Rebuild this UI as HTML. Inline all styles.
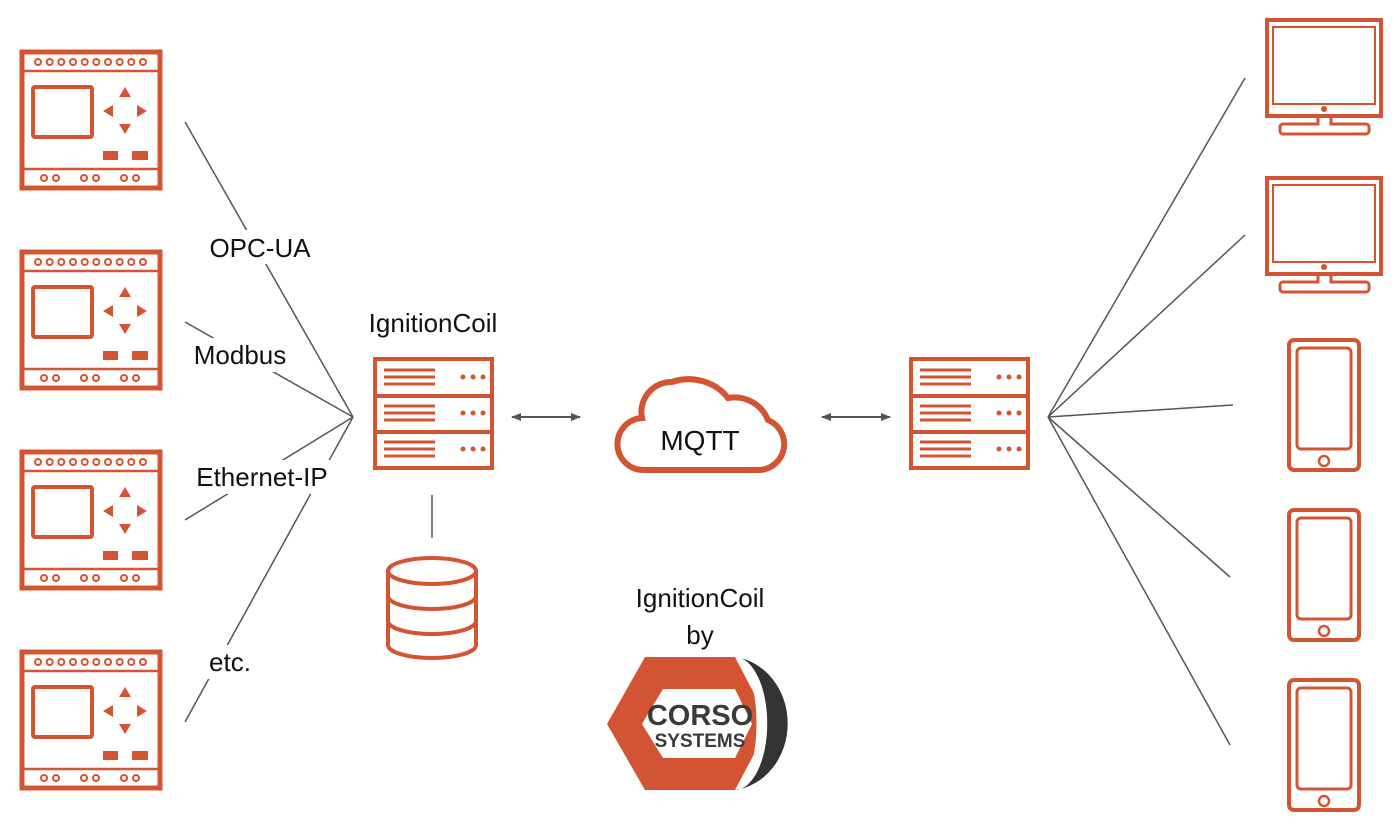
<!DOCTYPE html>
<html><head><meta charset="utf-8"><style>
html,body{margin:0;padding:0;background:#fff;}
svg{display:block;}
text{font-family:"Liberation Sans",Arial,sans-serif;fill:#111;}
</style></head><body>
<svg width="1400" height="840" viewBox="0 0 1400 840" xmlns="http://www.w3.org/2000/svg">
<defs>
<g id="plc">
 <rect x="22" y="52" width="138" height="136" fill="none" stroke="#d35433" stroke-width="5"/>
 <line x1="22" y1="71" x2="160" y2="71" stroke="#d35433" stroke-width="2.5"/>
 <line x1="22" y1="169" x2="160" y2="169" stroke="#d35433" stroke-width="2.5"/>
 <g fill="none" stroke="#d35433" stroke-width="2">
  <circle cx="38" cy="62" r="3"/><circle cx="49.7" cy="62" r="3"/><circle cx="61.3" cy="62" r="3"/><circle cx="73" cy="62" r="3"/><circle cx="84.7" cy="62" r="3"/><circle cx="96.3" cy="62" r="3"/><circle cx="108" cy="62" r="3"/><circle cx="119.7" cy="62" r="3"/><circle cx="131.3" cy="62" r="3"/><circle cx="143" cy="62" r="3"/>
  <circle cx="44" cy="178" r="3"/><circle cx="56" cy="178" r="3"/><circle cx="84" cy="178" r="3"/><circle cx="96" cy="178" r="3"/><circle cx="124" cy="178" r="3"/><circle cx="136" cy="178" r="3"/>
 </g>
 <rect x="33" y="87" width="59" height="50" rx="2" fill="none" stroke="#d35433" stroke-width="4"/>
 <g fill="#d35433">
  <polygon points="125,87 119,97 131,97"/>
  <polygon points="125,134 119,124 131,124"/>
  <polygon points="103,111 113,105 113,117"/>
  <polygon points="147,111 137,105 137,117"/>
  <rect x="103" y="151" width="15" height="9"/>
  <rect x="132" y="151" width="16" height="9"/>
 </g>
</g>
<g id="srv">
 <rect x="0" y="0" width="117" height="109" fill="none" stroke="#d35433" stroke-width="4"/>
 <line x1="0" y1="37" x2="117" y2="37" stroke="#d35433" stroke-width="4"/>
 <line x1="0" y1="73" x2="117" y2="73" stroke="#d35433" stroke-width="4"/>
 <g stroke="#d35433" stroke-width="3">
  <line x1="9" y1="11" x2="60" y2="11"/><line x1="9" y1="18" x2="60" y2="18"/><line x1="9" y1="25" x2="60" y2="25"/>
  <line x1="9" y1="47" x2="60" y2="47"/><line x1="9" y1="54" x2="60" y2="54"/><line x1="9" y1="61" x2="60" y2="61"/>
  <line x1="9" y1="83" x2="60" y2="83"/><line x1="9" y1="90" x2="60" y2="90"/><line x1="9" y1="97" x2="60" y2="97"/>
 </g>
 <g fill="#d35433">
  <circle cx="88" cy="18" r="2.5"/><circle cx="98" cy="18" r="2.5"/><circle cx="108" cy="18" r="2.5"/>
  <circle cx="88" cy="54" r="2.5"/><circle cx="98" cy="54" r="2.5"/><circle cx="108" cy="54" r="2.5"/>
  <circle cx="88" cy="90" r="2.5"/><circle cx="98" cy="90" r="2.5"/><circle cx="108" cy="90" r="2.5"/>
 </g>
</g>
<g id="mon">
 <rect x="1267" y="20" width="114" height="96" fill="none" stroke="#d35433" stroke-width="4"/>
 <rect x="1273" y="27" width="102" height="77" fill="none" stroke="#d35433" stroke-width="2"/>
 <circle cx="1324" cy="109" r="3" fill="#d35433"/>
 <path d="M1318,118 V124 H1283 a3,3 0 0 0 -3,3 v4 a3,3 0 0 0 3,3 H1366 a3,3 0 0 0 3,-3 v-4 a3,3 0 0 0 -3,-3 H1331 V118" fill="none" stroke="#d35433" stroke-width="3"/>
</g>
<g id="ph">
 <rect x="1289" y="340" width="70" height="130" rx="5" fill="none" stroke="#d35433" stroke-width="4"/>
 <rect x="1297" y="348" width="54" height="101" rx="4" fill="none" stroke="#d35433" stroke-width="3"/>
 <circle cx="1324" cy="461" r="5" fill="none" stroke="#d35433" stroke-width="2.5"/>
</g>
<marker id="ah" markerWidth="10" markerHeight="8" refX="9" refY="4" orient="auto-start-reverse" markerUnits="userSpaceOnUse">
 <polygon points="0,0 10,4 0,8" fill="#555"/>
</marker>
</defs>

<g stroke="#555" stroke-width="1.5">
 <line x1="185" y1="122" x2="353" y2="417"/>
 <line x1="185" y1="322" x2="353" y2="417"/>
 <line x1="185" y1="520" x2="353" y2="417"/>
 <line x1="185" y1="722" x2="353" y2="417"/>
 <line x1="432" y1="495" x2="432" y2="538"/>
 <line x1="1048" y1="417" x2="1245" y2="78"/>
 <line x1="1048" y1="417" x2="1245" y2="235"/>
 <line x1="1048" y1="417" x2="1233" y2="405"/>
 <line x1="1048" y1="417" x2="1230" y2="577"/>
 <line x1="1048" y1="417" x2="1230" y2="745"/>
</g>
<g fill="#fff">
 <rect x="196" y="230" width="128" height="34"/>
 <rect x="182" y="338" width="116" height="34"/>
 <rect x="182" y="460" width="160" height="34"/>
 <rect x="202" y="645" width="56" height="34"/>
</g>
<g font-size="26">
 <text x="260" y="257" text-anchor="middle">OPC-UA</text>
 <text x="240" y="364" text-anchor="middle">Modbus</text>
 <text x="262" y="486" text-anchor="middle">Ethernet-IP</text>
 <text x="230" y="671" text-anchor="middle">etc.</text>
 <text x="433" y="332" text-anchor="middle">IgnitionCoil</text>
 <text x="700" y="607" text-anchor="middle">IgnitionCoil</text>
 <text x="700" y="644" text-anchor="middle">by</text>
</g>

<use href="#plc"/>
<use href="#plc" y="200"/>
<use href="#plc" y="400"/>
<use href="#plc" y="600"/>

<use href="#srv" x="375" y="359"/>
<use href="#srv" x="911" y="359"/>

<g fill="none" stroke="#d35433" stroke-width="4">
 <ellipse cx="432" cy="571" rx="44" ry="13"/>
 <path d="M388,571 V645 A44,13 0 0 0 476,645 V571"/>
 <path d="M388,596 A44,13 0 0 0 476,596"/>
 <path d="M388,621 A44,13 0 0 0 476,621"/>
</g>

<g stroke="#555" stroke-width="2">
 <line x1="512" y1="417" x2="580" y2="417" marker-start="url(#ah)" marker-end="url(#ah)"/>
 <line x1="822" y1="417" x2="890" y2="417" marker-start="url(#ah)" marker-end="url(#ah)"/>
</g>

<path d="M645,470 H760 A26,26 0 0 0 768,420 A36,36 0 0 0 728,398 A48,44 0 0 0 672,382 A30,30 0 0 0 642,418 A26,26 0 0 0 645,470 Z" fill="#fff" stroke="#d35433" stroke-width="6"/>
<text x="700" y="450" font-size="28" text-anchor="middle">MQTT</text>

<polygon points="607,724 645,657 735,657 770,724 735,790 645,790" fill="#d35433"/>
<polygon points="642,724 663,689 735,689 752,724 735,758 663,758" fill="#fff"/>
<path d="M730,650 A30,74 0 0 1 730,797 L800,797 L800,650 Z" fill="#fff"/>
<path d="M735,657 A60,67 0 0 1 735,790 A32,66 0 0 0 735,657 Z" fill="#333"/>
<text x="700" y="725" font-size="29" font-weight="bold" text-anchor="middle" style="fill:#3a3a3a">CORSO</text>
<text x="700" y="747" font-size="19" font-weight="bold" text-anchor="middle" style="fill:#3a3a3a">SYSTEMS</text>

<use href="#mon"/>
<use href="#mon" y="158"/>
<use href="#ph"/>
<use href="#ph" y="170"/>
<use href="#ph" y="340"/>
</svg>
</body></html>
